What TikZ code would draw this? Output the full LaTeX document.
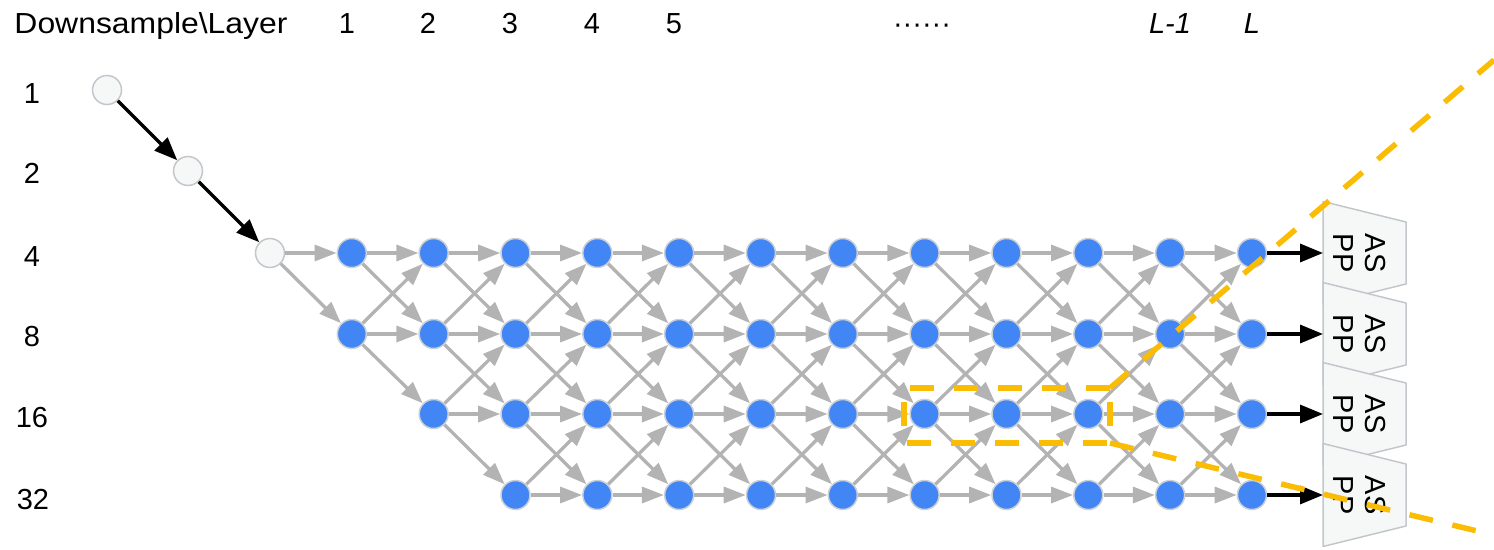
\documentclass[tikz,border=0pt]{standalone}
\usepackage{fontspec}
\setmainfont{Liberation Sans}
\usetikzlibrary{arrows.meta}
\definecolor{gblue}{HTML}{4285F4}
\definecolor{gedge}{HTML}{B3B3B3}
\definecolor{nborder}{HTML}{CBD0D6}
\definecolor{pale}{HTML}{F6F7F7}
\definecolor{paleborder}{HTML}{C3C7CC}
\definecolor{gold}{HTML}{FBBC04}
\begin{document}
\begin{tikzpicture}[x=1pt,y=-1pt,
  every node/.style={font=\fontsize{29}{32}\selectfont},
  bluenode/.style={circle,fill=gblue,draw=nborder,line width=1.5pt,minimum size=29pt,inner sep=0pt},
  palenode/.style={circle,fill=pale,draw=paleborder,line width=1.5pt,minimum size=29pt,inner sep=0pt},
  garrow/.style={draw=gedge,line width=3.3pt,-{Triangle[length=22pt,width=16pt]}},
  barrow/.style={draw=black,line width=3.3pt,-{Triangle[length=23pt,width=18pt]}},
  hilite/.style={draw=gold,line width=5.5pt,dash pattern=on 24pt off 20pt},
  aspp/.style={fill=pale,draw=paleborder,line width=1.5pt,line join=round},
  lbl/.style={inner sep=0pt,anchor=base},
  asppText/.style={inner sep=0pt,rotate=-90,align=center}
]
\useasboundingbox (0,0) rectangle (1494,549);

% header labels
\node[lbl] (title) at (151,33) {\scalebox{1.1}[1]{Downsample\textbackslash Layer}};
\node[lbl] (c1) at (347,33) {1};
\node[lbl] (c2) at (428,33) {2};
\node[lbl] (c3) at (510,33) {3};
\node[lbl] (c4) at (592,33) {4};
\node[lbl] (c5) at (674,33) {5};
\node[lbl] (cdots) at (922,33) {······};
\node[lbl] (cL1) at (1170,33) {\textit{L-1}};
\node[lbl] (cL) at (1252,33) {\textit{L}};

% row labels
\node[lbl] (r1) at (32,103) {1};
\node[lbl] (r2) at (32,183) {2};
\node[lbl] (r4) at (32,266) {4};
\node[lbl] (r8) at (32,346) {8};
\node[lbl] (r16) at (32,427) {16};
\node[lbl] (r32) at (33,509) {32};

% stem nodes
\node[palenode] (p1) at (107,90) {};
\node[palenode] (p2) at (188,171) {};
\node[palenode] (p4) at (270,253) {};

% grid nodes
\foreach \r/\y in {0/253,1/334,2/414,3/495}{
  \foreach \c in {1,...,12}{
    \ifnum\c<\r\relax\else
      \node[bluenode] (n-\r-\c) at ({270+81.83*\c},\y) {};
    \fi
  }
}

% stem arrows
\draw[barrow] (p1) -- (p2);
\draw[barrow] (p2) -- (p4);
\draw[garrow] (p4) -- (n-0-1);
\draw[garrow] (p4) -- (n-1-1);

% grid arrows
\foreach \r in {0,...,3}{
  \foreach \c in {1,...,11}{
    \ifnum\c<\r\relax\else
      \pgfmathtruncatemacro\cn{\c+1}
      \draw[garrow] (n-\r-\c) -- (n-\r-\cn);
      \ifnum\r>0
        \pgfmathtruncatemacro\ru{\r-1}
        \draw[garrow] (n-\r-\c) -- (n-\ru-\cn);
      \fi
      \ifnum\r<3
        \pgfmathtruncatemacro\rd{\r+1}
        \draw[garrow] (n-\r-\c) -- (n-\rd-\cn);
      \fi
    \fi
  }
}

% ASPP blocks
\foreach \r/\y in {0/253,1/334,2/414,3/495}{
  \draw[aspp] (1323,\y-51.5) -- (1406,\y-31) -- (1406,\y+31) -- (1323,\y+51.5) -- cycle;
  \node[asppText] (a-\r) at (1360,\y) {AS\\PP};
  \coordinate (in-\r) at (1323,\y);
  \draw[barrow] (n-\r-12) -- (in-\r);
}

% highlight
\coordinate (h1) at (1110,388);
\coordinate (h2) at (904,388);
\coordinate (h3) at (904,443);
\coordinate (h4) at (1110,443);
\coordinate (e1) at (1494,60);
\coordinate (e2) at (1494,535);
\draw[hilite] (h1) -- (h2) -- (h3) -- (h4) -- cycle;
\draw[hilite] (h1) -- (e1);
\draw[hilite] (h4) -- (e2);
\end{tikzpicture}
\end{document}
